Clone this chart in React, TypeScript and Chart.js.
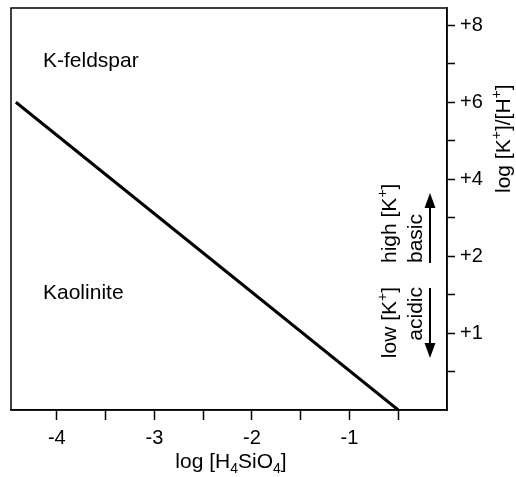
import React, { useEffect, useRef } from "react";
import { Chart, registerables } from "chart.js";

Chart.register(...registerables);

// ---- data ----
const boundaryX = [-4.42, -0.5];
const boundaryY = [8, 0];
const xTickValues = [-4, -3.5, -3, -2.5, -2, -1.5, -1, -0.5];
const xTickLabels = ["-4", "", "-3", "", "-2", "", "-1", ""];
const yTickValues = [1, 2, 3, 4, 5, 6, 7, 8, 9, 10];
const yTickLabels = ["", "+1", "", "+2", "", "+4", "", "+6", "", "+8"];

const FONT = "'Liberation Sans', Arial, Helvetica, sans-serif";

type Seg = { t: string; p?: "sup" | "sub" };

function richWidth(ctx: CanvasRenderingContext2D, segs: Seg[], size: number) {
  let w = 0;
  for (const s of segs) {
    const fs = s.p ? Math.round(size * 0.65) : size;
    ctx.font = `${fs}px ${FONT}`;
    w += ctx.measureText(s.t).width;
  }
  return w;
}

function drawRich(
  ctx: CanvasRenderingContext2D,
  segs: Seg[],
  x: number,
  y: number,
  size: number,
  align: "left" | "right" | "center",
  rotate = 0
) {
  ctx.save();
  ctx.translate(x, y);
  if (rotate) ctx.rotate(rotate);
  const w = richWidth(ctx, segs, size);
  let cx = align === "left" ? 0 : align === "right" ? -w : -w / 2;
  ctx.textAlign = "left";
  ctx.textBaseline = "alphabetic";
  ctx.fillStyle = "#000";
  for (const s of segs) {
    const fs = s.p ? Math.round(size * 0.65) : size;
    ctx.font = `${fs}px ${FONT}`;
    const dy = s.p === "sup" ? -size * 0.42 : s.p === "sub" ? size * 0.22 : 0;
    ctx.fillText(s.t, cx, dy);
    cx += ctx.measureText(s.t).width;
  }
  ctx.restore();
}

function arrow(ctx: CanvasRenderingContext2D, x: number, y0: number, y1: number) {
  const dir = y1 < y0 ? -1 : 1;
  const head = 15;
  ctx.save();
  ctx.strokeStyle = "#000";
  ctx.fillStyle = "#000";
  ctx.lineWidth = 2;
  ctx.beginPath();
  ctx.moveTo(x, y0);
  ctx.lineTo(x, y1 - dir * head + dir * 2);
  ctx.stroke();
  ctx.beginPath();
  ctx.moveTo(x, y1);
  ctx.lineTo(x - 5.5, y1 - dir * head);
  ctx.lineTo(x + 5.5, y1 - dir * head);
  ctx.closePath();
  ctx.fill();
  ctx.restore();
}

const annotations = {
  id: "annotations",
  afterDraw(chart: any) {
    const ctx: CanvasRenderingContext2D = chart.ctx;
    const a = chart.chartArea;
    ctx.save();
    ctx.strokeStyle = "#000";
    ctx.lineWidth = 1.5;
    ctx.strokeRect(a.left, a.top, a.right - a.left, a.bottom - a.top);
    ctx.restore();

    drawRich(ctx, [{ t: "K-feldspar" }], 43, 67, 21, "left");
    drawRich(ctx, [{ t: "Kaolinite" }], 43, 299, 21, "left");

    const R = -Math.PI / 2;
    drawRich(ctx, [{ t: "high [K" }, { t: "+", p: "sup" }, { t: "]" }], 396, 263, 21, "left", R);
    drawRich(ctx, [{ t: "basic" }], 422, 263, 21, "left", R);
    drawRich(ctx, [{ t: "low [K" }, { t: "+", p: "sup" }, { t: "]" }], 396, 287, 21, "right", R);
    drawRich(ctx, [{ t: "acidic" }], 422, 287, 21, "right", R);
    arrow(ctx, 430, 263, 193);
    arrow(ctx, 430, 288, 358);

    drawRich(
      ctx,
      [{ t: "log [K" }, { t: "+", p: "sup" }, { t: "]/[H" }, { t: "+", p: "sup" }, { t: "]" }],
      510,
      193,
      21,
      "left",
      R
    );
    drawRich(
      ctx,
      [{ t: "log [H" }, { t: "4", p: "sub" }, { t: "SiO" }, { t: "4", p: "sub" }, { t: "]" }],
      (a.left + a.right) / 2 + 2,
      468,
      21,
      "center"
    );
  },
};

export default function App() {
  const ref = useRef<HTMLCanvasElement>(null);
  useEffect(() => {
    document.body.style.margin = "0";
    const canvas = ref.current!;
    const chart = new Chart(canvas, {
      type: "line",
      data: {
        datasets: [
          {
            data: boundaryX.map((x, i) => ({ x, y: boundaryY[i] })),
            borderColor: "#000",
            borderWidth: 3,
            pointRadius: 0,
            fill: false,
          },
        ],
      },
      options: {
        animation: false,
        responsive: false,
        maintainAspectRatio: false,
        layout: { padding: { left: 11, top: 8, right: 0, bottom: 0 } },
        plugins: { legend: { display: false }, tooltip: { enabled: false } },
        scales: {
          x: {
            type: "linear",
            min: -4.47,
            max: 0,
            afterBuildTicks: (s: any) => {
              s.ticks = xTickValues.map((v) => ({ value: v }));
            },
            afterFit: (s: any) => {
              s.height = 67;
              s.paddingLeft = 0;
              s.paddingRight = 0;
            },
            ticks: {
              autoSkip: false,
              maxRotation: 0,
              padding: 6,
              color: "#000",
              font: { family: FONT, size: 20 },
              callback: (v: any) => {
                const i = xTickValues.indexOf(Number(v));
                return i >= 0 ? xTickLabels[i] : "";
              },
            },
            grid: {
              drawOnChartArea: false,
              drawTicks: true,
              tickLength: 10,
              tickWidth: 1.5,
              tickColor: "#000",
            },
            border: { display: true, color: "#000", width: 1.5 },
          },
          y: {
            type: "linear",
            position: "right",
            min: 0,
            max: 10.45,
            afterBuildTicks: (s: any) => {
              s.ticks = yTickValues.map((v) => ({ value: v }));
            },
            afterFit: (s: any) => {
              s.width = 69;
              s.paddingTop = 0;
              s.paddingBottom = 0;
            },
            ticks: {
              autoSkip: false,
              padding: 5,
              color: "#000",
              font: { family: FONT, size: 20 },
              callback: (v: any) => {
                const i = yTickValues.indexOf(Number(v));
                return i >= 0 ? yTickLabels[i] : "";
              },
            },
            grid: {
              drawOnChartArea: false,
              drawTicks: true,
              tickLength: 8,
              tickWidth: 1.5,
              tickColor: "#000",
            },
            border: { display: true, color: "#000", width: 1.5 },
          },
        },
      },
      plugins: [annotations],
    });
    return () => chart.destroy();
  }, []);
  return (
    <div style={{ width: 516, height: 477, background: "#fff" }}>
      <canvas ref={ref} width={516} height={477} style={{ display: "block" }} />
    </div>
  );
}
